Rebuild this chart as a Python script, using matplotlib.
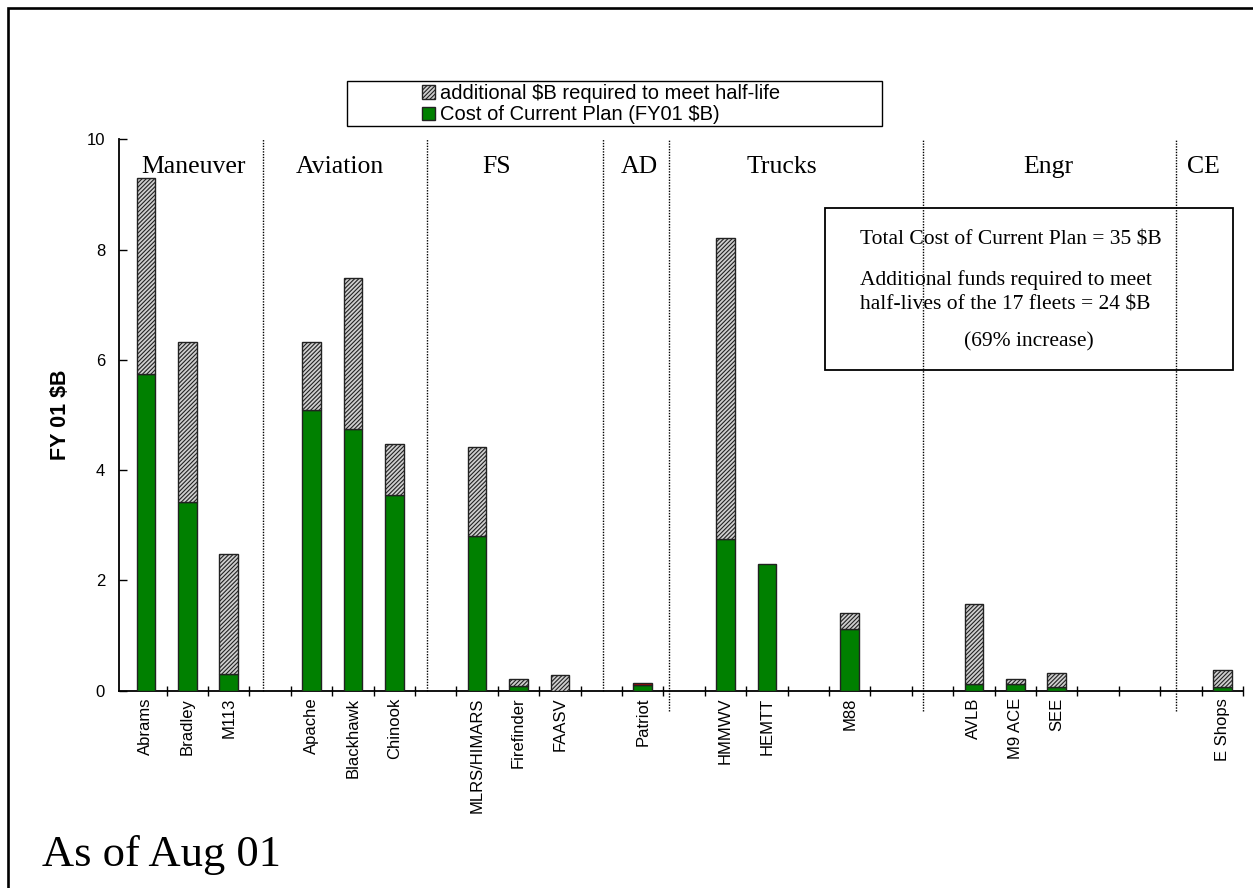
import matplotlib.pyplot as plt
import matplotlib.patches as mpatches
import numpy as np

plt.rcParams['font.family'] = ['Liberation Sans', 'DejaVu Sans']

# fleet slots left to right, '' = empty gap slot
fleets = ['Abrams', 'Bradley', 'M113', '', 'Apache', 'Blackhawk', 'Chinook', '',
          'MLRS/HIMARS', 'Firefinder', 'FAASV', '', 'Patriot', '', 'HMMWV', 'HEMTT',
          '', 'M88', '', '', 'AVLB', 'M9 ACE', 'SEE', '', '', '', 'E Shops']

# cost of current plan (FY01 $B)
cost = [5.74, 3.43, 0.30, 0, 5.09, 4.74, 3.55, 0,
        2.80, 0.08, 0, 0, 0.10, 0, 2.75, 2.30,
        0, 1.11, 0, 0, 0.13, 0.13, 0.07, 0, 0, 0, 0.06]
# additional $B required to meet half-life
additional = [3.55, 2.89, 2.17, 0, 1.23, 2.74, 0.92, 0,
              1.61, 0.13, 0.28, 0, 0, 0, 5.46, 0,
              0, 0.29, 0, 0, 1.44, 0.08, 0.26, 0, 0, 0, 0.31]
# small red segment on top of Patriot
patriot_red = 0.045

groups = ['Maneuver', 'Aviation', 'FS', 'AD', 'Trucks', 'Engr', 'CE']
group_x = [1.15, 4.69, 8.47, 11.92, 15.35, 21.8, 25.55]
dividers = [2.82, 6.80, 11.05, 12.64, 18.76, 24.89]

green = '#008000'
hatch_face = '#cfcfcf'
edge = '#222222'
plt.rcParams['hatch.linewidth'] = 0.8

fig = plt.figure(figsize=(12.53, 8.88), dpi=100)
ax = fig.add_axes([119 / 1253, 1 - 690.7 / 888, 1124 / 1253, 551.5 / 888])

idx = [i for i, f in enumerate(fleets) if f]
x = np.array(idx)
c = np.array([cost[i] for i in idx])
a = np.array([additional[i] for i in idx])

w = 0.45
ax.bar(x, c, width=w, color=green, edgecolor=edge, linewidth=1, zorder=3)
mask = a > 0
ax.bar(x[mask], a[mask], bottom=c[mask], width=w, color=hatch_face,
       edgecolor=edge, hatch='////////', linewidth=1, zorder=3)
p = fleets.index('Patriot')
ax.bar([p], [patriot_red], bottom=[cost[p]], width=w, color='#c00000',
       edgecolor=edge, linewidth=1, zorder=3)

ax.set_xlim(-0.65, 26.5)
ax.set_ylim(0, 10)
ax.set_yticks([0, 2, 4, 6, 8, 10])
ax.tick_params(axis='y', direction='in', length=6, width=1, labelsize=12,
               pad=10)
ax.set_xticks(x)
ax.set_xticklabels([fleets[i] for i in idx], rotation=90, fontsize=12)
ax.tick_params(axis='x', which='major', length=0, pad=5)
ax.set_xticks(np.arange(0.5, 27, 1), minor=True)
ax.tick_params(axis='x', which='minor', direction='inout', length=7, width=1)
for s in ['top', 'right']:
    ax.spines[s].set_visible(False)
ax.spines['left'].set_linewidth(1.3)
ax.spines['bottom'].set_linewidth(1.3)

# dotted group dividers
for k, d in enumerate(dividers):
    lo = 0 if k < 3 else -0.37
    ax.plot([d, d], [lo, 10], color='black', lw=1, ls=(0, (1, 1)),
            clip_on=False, zorder=2)

for g, gx in zip(groups, group_x):
    ax.text(gx, 9.38, g, ha='center', va='baseline', fontsize=18.5,
            family='Liberation Serif')

fig.text(60 / 1253, 1 - 415 / 888, 'FY 01 $B', rotation=90, ha='center',
         va='center', fontsize=15.5, fontweight='bold')

# legend box
fig.patches.append(mpatches.Rectangle((347 / 1253, 1 - 126 / 888), 535 / 1253, 45 / 888,
                                      transform=fig.transFigure, fill=False,
                                      edgecolor='black', lw=1))
h1 = mpatches.Patch(facecolor=hatch_face, edgecolor=edge, hatch='////////', lw=1)
h2 = mpatches.Patch(facecolor=green, edgecolor=edge, lw=1)
fig.legend([h1, h2], ['additional $B required to meet half-life',
                      'Cost of Current Plan (FY01 $B)'],
           loc='upper left', bbox_to_anchor=(422 / 1253, 1 - 84 / 888),
           frameon=False, fontsize=14.5, handlelength=0.65, handleheight=0.65,
           handletextpad=0.25, labelspacing=0.12, borderpad=0, borderaxespad=0)

# summary box
fig.patches.append(mpatches.Rectangle((825 / 1253, 1 - 370 / 888), 408 / 1253, 162 / 888,
                                      transform=fig.transFigure, fill=False,
                                      edgecolor='black', lw=1.3))
serif = dict(family='Liberation Serif', fontsize=15.5, va='baseline')
fig.text(860 / 1253, 1 - 245 / 888, 'Total Cost of Current Plan = 35 $B', ha='left', **serif)
fig.text(860 / 1253, 1 - 285 / 888, 'Additional funds required to meet', ha='left', **serif)
fig.text(860 / 1253, 1 - 309 / 888, 'half-lives of the 17 fleets = 24 $B', ha='left', **serif)
fig.text(1029 / 1253, 1 - 346 / 888, '(69% increase)', ha='center', **serif)

fig.text(42 / 1253, 1 - 866 / 888, 'As of Aug 01', ha='left', va='baseline',
         fontsize=32, family='Liberation Serif')

# page border (left and top visible)
fig.patches.append(mpatches.Rectangle((8 / 1253, -0.1), 1.2, 1.1 - 8.5 / 888,
                                      transform=fig.transFigure, fill=False,
                                      edgecolor='black', lw=1.9, clip_on=False))

fig.savefig('out.png', dpi=100)
